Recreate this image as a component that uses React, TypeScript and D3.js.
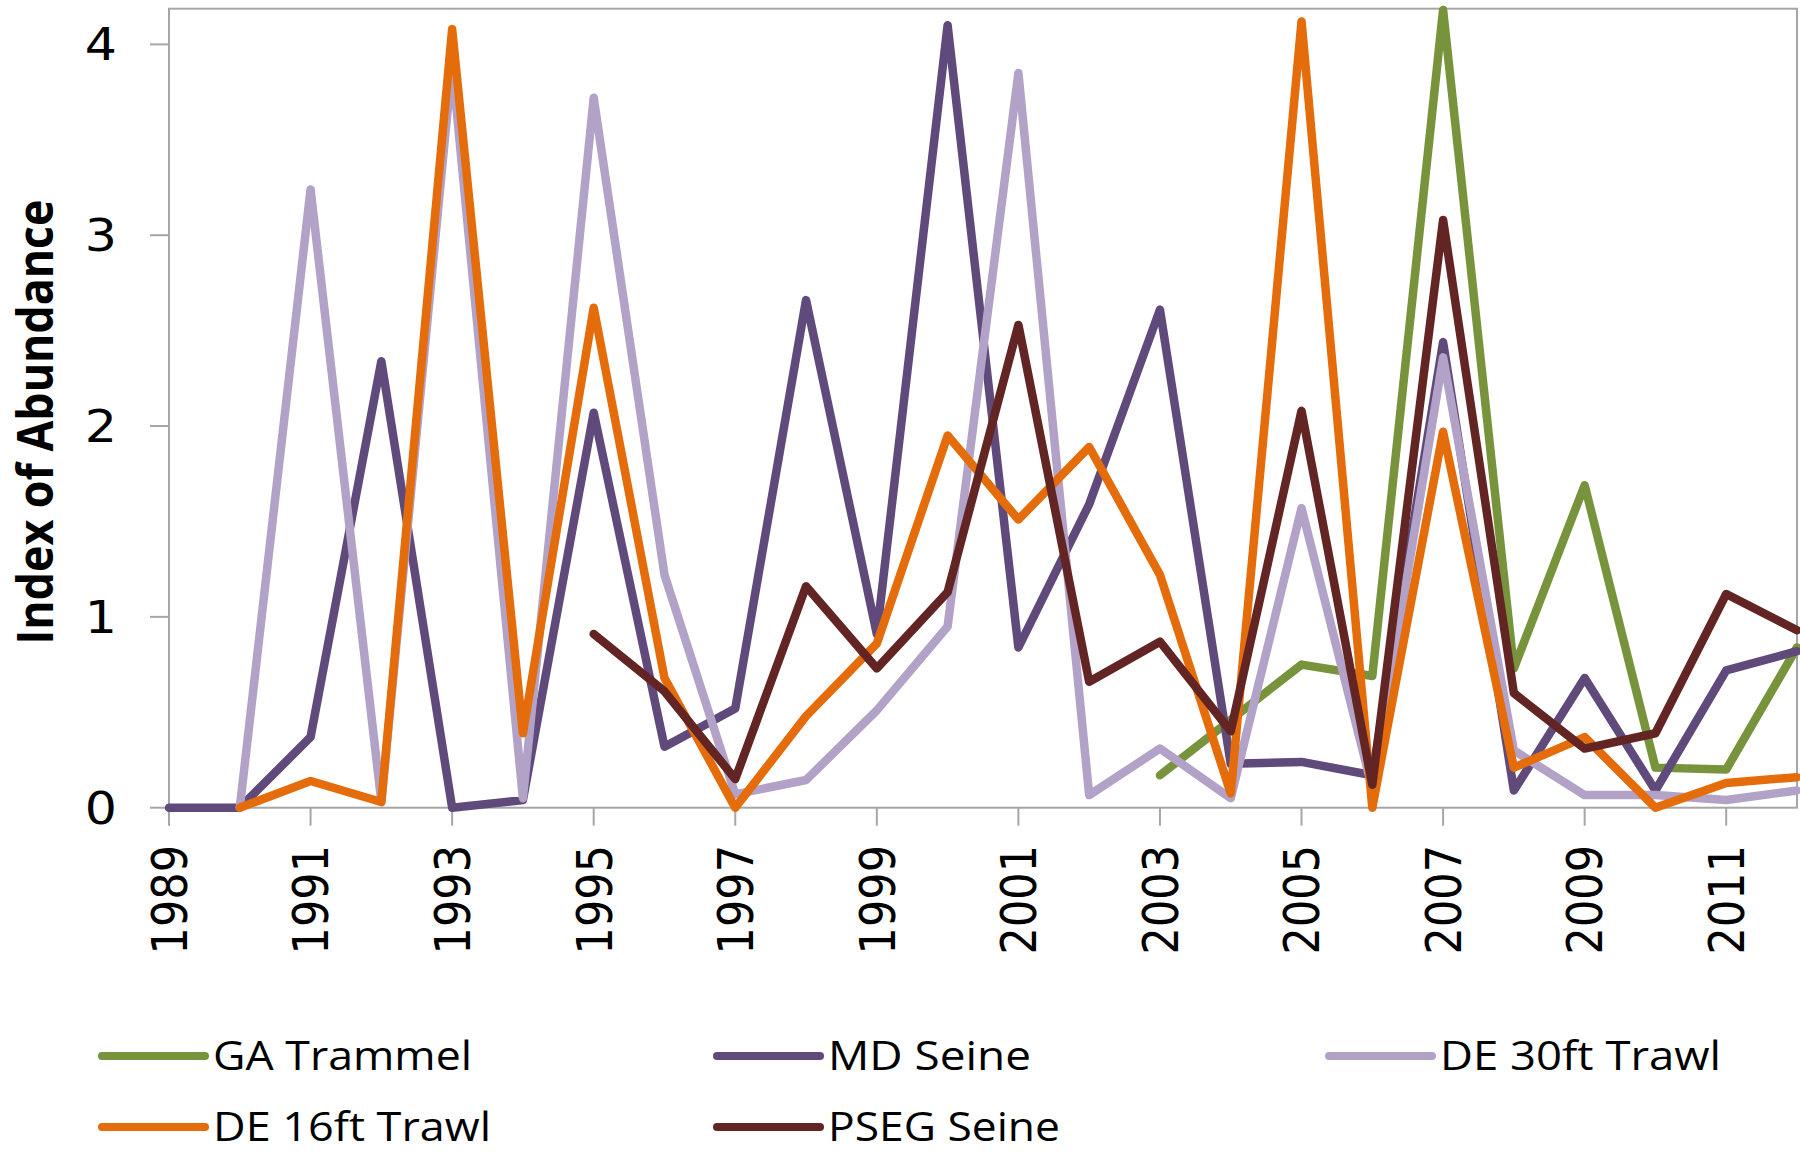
import React, { useEffect, useRef } from "react";
import * as d3 from "d3";

const years = [
  1989, 1990, 1991, 1992, 1993, 1994, 1995, 1996, 1997, 1998, 1999, 2000,
  2001, 2002, 2003, 2004, 2005, 2006, 2007, 2008, 2009, 2010, 2011, 2012,
];

const gaTrammel = [
  null, null, null, null, null, null, null, null, null, null, null, null,
  null, null, 0.17, 0.46, 0.75, 0.69, 4.18, 0.73, 1.69, 0.21, 0.2, 0.84,
];
const mdSeine = [
  0, 0, 0.37, 2.34, 0, 0.04, 2.07, 0.32, 0.52, 2.66, 0.91, 4.1,
  0.84, 1.59, 2.61, 0.23, 0.24, 0.17, 2.44, 0.09, 0.68, 0.09, 0.72, 0.82,
];
const de30ftTrawl = [
  null, 0, 3.24, 0.03, 3.9, 0.05, 3.72, 1.22, 0.07, 0.145, 0.51, 0.95,
  3.85, 0.066, 0.31, 0.05, 1.57, 0.1, 2.36, 0.3, 0.066, 0.066, 0.04, 0.09,
];
const de16ftTrawl = [
  null, 0, 0.14, 0.03, 4.08, 0.39, 2.62, 0.68, 0, 0.48, 0.86, 1.95,
  1.51, 1.89, 1.22, 0.075, 4.12, 0, 1.97, 0.21, 0.37, 0, 0.13, 0.16,
];
const psegSeine = [
  null, null, null, null, null, null, 0.91, 0.61, 0.15, 1.16, 0.73, 1.13,
  2.53, 0.66, 0.87, 0.4, 2.08, 0.12, 3.08, 0.6, 0.31, 0.39, 1.12, 0.93,
];

const seriesNames = ["GA Trammel", "MD Seine", "DE 30ft Trawl", "DE 16ft Trawl", "PSEG Seine"];
const seriesValues = [gaTrammel, mdSeine, de30ftTrawl, de16ftTrawl, psegSeine];
const seriesColors = ["#77933C", "#604A7B", "#B3A2C7", "#E46C0A", "#632523"];

const xTickYears = [1989, 1991, 1993, 1995, 1997, 1999, 2001, 2003, 2005, 2007, 2009, 2011];
const yTicks = [0, 1, 2, 3, 4];

// legend layout: marker x, row y, text width
const legendSlots = [
  { x: 102, y: 1056, w: 259 },
  { x: 717, y: 1056, w: 203 },
  { x: 1329, y: 1056, w: 281 },
  { x: 102, y: 1127, w: 278 },
  { x: 717, y: 1127, w: 232 },
];

const WIDTH = 1800;
const HEIGHT = 1152;
const STRETCH = 1.15; // source image is slightly stretched horizontally

const App: React.FC = () => {
  const svgRef = useRef<SVGSVGElement>(null);

  useEffect(() => {
    if (!svgRef.current) return;
    const svg = d3.select(svgRef.current);
    svg.selectAll("*").remove();

    const left = 169;
    const right = 1797;
    const top = 8.7;
    const bottom = 807.7;

    const xScale = d3.scaleLinear().domain([1989, 2012]).range([left, right]);
    const yScale = d3.scaleLinear().domain([0, 4.187]).range([bottom, top]);

    svg.append("rect")
      .attr("x", 0).attr("y", 0)
      .attr("width", WIDTH).attr("height", HEIGHT)
      .attr("fill", "#ffffff");

    // plot frame
    svg.append("rect")
      .attr("x", left).attr("y", top)
      .attr("width", right - left).attr("height", bottom - top)
      .attr("fill", "none")
      .attr("stroke", "#A6A6A6")
      .attr("stroke-width", 2);

    // y axis ticks + labels
    const yAxis = svg.append("g");
    yAxis.selectAll("line")
      .data(yTicks)
      .join("line")
      .attr("x1", left - 19).attr("x2", left)
      .attr("y1", d => yScale(d)).attr("y2", d => yScale(d))
      .attr("stroke", "#A6A6A6")
      .attr("stroke-width", 2);
    yAxis.selectAll("text")
      .data(yTicks)
      .join("text")
      .attr("transform", d => `translate(117,${yScale(d)}) scale(${STRETCH},1)`)
      .attr("text-anchor", "end")
      .attr("dy", "0.36em")
      .style("font-family", "'DejaVu Sans', sans-serif")
      .style("font-size", "44px")
      .attr("fill", "#000")
      .text(d => d);

    // x axis ticks + labels
    const xAxis = svg.append("g");
    xAxis.selectAll("line")
      .data(xTickYears)
      .join("line")
      .attr("x1", d => xScale(d)).attr("x2", d => xScale(d))
      .attr("y1", bottom).attr("y2", bottom + 18)
      .attr("stroke", "#A6A6A6")
      .attr("stroke-width", 2);
    xAxis.selectAll("text")
      .data(xTickYears)
      .join("text")
      .attr("transform", d => `translate(${xScale(d)},845) scale(${STRETCH},1) rotate(-90)`)
      .attr("text-anchor", "end")
      .attr("dy", "0.36em")
      .style("font-family", "'DejaVu Sans', sans-serif")
      .style("font-size", "43px")
      .attr("fill", "#000")
      .text(d => d);

    // y title
    svg.append("text")
      .attr("transform", `translate(53,422) scale(${STRETCH},1) rotate(-90)`)
      .attr("text-anchor", "middle")
      .attr("textLength", 445)
      .attr("lengthAdjust", "spacingAndGlyphs")
      .style("font-family", "'Open Sans', sans-serif")
      .style("font-weight", "bold")
      .style("font-size", "44px")
      .attr("fill", "#000")
      .text("Index of Abundance");

    // series lines
    const line = d3.line<number | null>()
      .defined(d => d !== null)
      .x((_, i) => xScale(years[i]))
      .y(d => yScale(d as number));

    seriesValues.forEach((vals, i) => {
      svg.append("path")
        .datum(vals)
        .attr("fill", "none")
        .attr("stroke", seriesColors[i])
        .attr("stroke-width", 8.5)
        .attr("stroke-linejoin", "round")
        .attr("stroke-linecap", "round")
        .attr("d", line);
    });

    // legend
    const legend = svg.append("g");
    seriesNames.forEach((name, i) => {
      const slot = legendSlots[i];
      legend.append("line")
        .attr("x1", slot.x).attr("x2", slot.x + 103)
        .attr("y1", slot.y).attr("y2", slot.y)
        .attr("stroke", seriesColors[i])
        .attr("stroke-width", 8)
        .attr("stroke-linecap", "round");
      legend.append("text")
        .attr("x", slot.x + 111)
        .attr("y", slot.y + 14)
        .attr("textLength", slot.w)
        .attr("lengthAdjust", "spacingAndGlyphs")
        .style("font-family", "'Open Sans', sans-serif")
        .style("font-size", "41px")
        .attr("fill", "#000")
        .text(name);
    });
  }, []);

  return (
    <div style={{ position: "absolute", left: 0, top: 0 }}>
      <svg
        ref={svgRef}
        width={WIDTH}
        height={HEIGHT}
        viewBox={`0 0 ${WIDTH} ${HEIGHT}`}
        style={{ display: "block" }}
      />
    </div>
  );
};

export default App;
